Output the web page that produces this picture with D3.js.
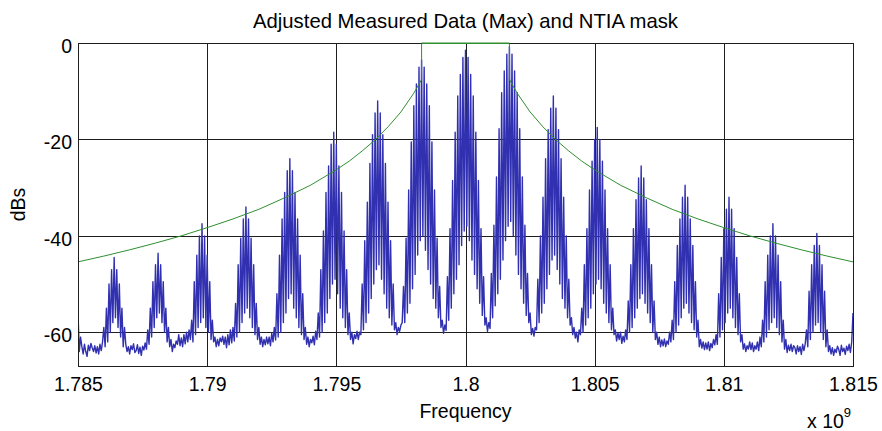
<!DOCTYPE html>
<html>
<head>
<meta charset="utf-8">
<script src="https://cdn.jsdelivr.net/npm/d3@7/dist/d3.min.js"></script>
<style>
  html, body { margin: 0; padding: 0; background: #ffffff; }
  svg { display: block; }
  text { font-family: "Liberation Sans", Arial, Helvetica, sans-serif; fill: #000; }
</style>
</head>
<body>
<svg id="chart" width="882" height="431"></svg>
<script>
// Spectrum sample grid (Hz)
const freqStartHz = 1.785e9;
const freqStepHz = 5e4;

// Measured max-hold spectrum, dB, one sample per 50 kHz
const spectrumDb = [
  -56,-64,-61,-63,-64.5,-62.5,-64,-65,-62.7,-63.8,-62.3,
  -63.2,-64,-62.8,-64.3,-63,-64.5,-62.5,-63.8,-62,-59,-63,-55,-62,-50,-60,-47,-58,-44.5,-57,-47,-59,-50,-61,-55,-63,-59,-62.5,-64,-63,-64.5,-62.8,-63.6,-62.4,-64.2,
  -63.8,-62.6,-64.4,-63.1,-64.8,-62.9,-63.7,-62.2,-63.5,-59.5,-62.5,-55,-61,-49.5,-59,-46,-57,-43.6,-56,-46,-58,-49.5,-60,-55,-62,-59,-63,-61.5,-64,-62.5,-63.2,-61.8,-62.5,-60.5,
  -62.8,-61.2,-63,-60.5,-62.4,-60,-62,-59.5,-61.5,-57.5,-62,-49.5,-60.5,-44,-59,-40,-58,-37.5,-57,-40,-59,-44,-60,-49.5,-61.5,-57.5,-62,-61,-63,-61.5,-62.8,-61.2,-62,-60.8,
  -62.5,-61,-63.2,-60.5,-62.6,-59.5,-62.2,-59,-61.8,-54,-61,-46,-60,-40.5,-58,-36.5,-56,-34,-55,-36.5,-57,-40.5,-59,-46,-60.5,-54,-61.5,-59,-62.5,-61,-63,-61.5,-62.6,-61,
  -62.4,-61,-62.8,-60.2,-62,-59,-61.6,-52,-61,-44,-60,-36.5,-58,-31,-56,-26.5,-53,-24,-52,-26.5,-55,-31,-57,-36.5,-59,-44,-60.5,-52,-61.5,-59,-62.5,-61,-63,-61.5,
  -62.2,-60.8,-62.6,-59.8,-61.5,-56,-61,-47,-60,-39,-58,-31,-56,-25.5,-53,-21,-50,-18.5,-49,-21,-52,-25.5,-55,-31,-57,-39,-59,-47,-60.5,-56,-61.5,-60,-62.4,-60.5,
  -61.3,-59.8,-61.5,-60,-60.5,-50,-59.5,-41,-58,-33,-56,-25,-53,-19,-50,-14.5,-47,-12,-46,-14.5,-49,-19,-52,-25,-55,-33,-57,-41,-58.5,-50,-59.5,-58,-60.5,-59,
  -59.8,-58.5,-58,-50.5,-58,-40.5,-56,-30.5,-54,-20.5,-51,-13,-48,-8.5,-44,-5,-41,-3.5,-40,-5,-43,-8.5,-47,-13,-50,-20.5,-53,-30.5,-55,-40.5,-57,-50.5,-59,-57.5,
  -60.2,-58.5,-59.6,-48.5,-57.5,-38.5,-55,-28.5,-52,-18.5,-49,-11,-46,-6.5,-42,-3,-39,-1.5,-38,-3,-41,-6.5,-45,-11,-48,-18.5,-51,-28.5,-54,-38.5,-56.5,-48.5,-58.5,-57,
  -59.8,-58,-59.2,-47.8,-57,-37.8,-54.5,-27.8,-52,-17.8,-49,-10.3,-45,-5.8,-41,-2.3,-38,-0.8,-37,-2.3,-40,-5.8,-44,-10.3,-48,-17.8,-51,-27.8,-54,-37.8,-56.5,-47.8,-58,-56,
  -60.5,-59.2,-60.8,-59,-59.5,-49,-58,-40,-56,-32,-54,-24,-51,-18,-48,-13.5,-45,-11,-44,-13.5,-47,-18,-50,-24,-53,-32,-55,-40,-57,-49,-58.5,-57,-60.5,-59,
  -61.2,-60,-62,-59.5,-60.5,-55,-60,-46,-58.5,-38.5,-57,-30.5,-55,-24.5,-52,-20,-50,-17.5,-49,-20,-51,-24.5,-54,-30.5,-56,-38.5,-58,-46,-59.5,-55,-60.5,-59.5,-61.8,-60.2,
  -61.5,-60,-62.3,-60.8,-62,-59.5,-61.5,-53.5,-60,-46,-59,-38.5,-57,-32.5,-55,-28,-53,-25.5,-52,-28,-54,-32.5,-56,-38.5,-58,-46,-60,-53.5,-61.5,-60,-62.5,-61,-63,-61.6,
  -62.8,-61.4,-63,-61.8,-62.5,-60,-62,-57.5,-61.5,-49.5,-60,-42,-58.5,-36.5,-57,-32,-55,-29.5,-54,-32,-56,-36.5,-58,-42,-59.5,-49.5,-61,-57.5,-63,-61.5,-63.3,-62,-63.6,-62.2,
  -63.5,-62,-63.8,-62.3,-63.2,-61.5,-62.6,-60.5,-62.5,-52,-61,-44.5,-59.5,-38.5,-58,-34.5,-56,-32,-55,-34.5,-57,-38.5,-59,-44.5,-60.5,-52,-62,-60.5,-63.5,-62.4,-64,-62.8,-63.5,-62,
  -63.6,-62.2,-64,-62.8,-63.5,-62,-63.8,-61,-63,-57.5,-62,-49.5,-61,-44,-59.5,-40,-58,-37.5,-57,-40,-59,-44,-60.5,-49.5,-62,-57.5,-63.5,-61.5,-64.2,-62.7,-63.8,-62.5,-64,-62.8,
  -63.2,-64.5,-62.8,-64,-63,-64.6,-62.5,-63.8,-62.4,-59.5,-63,-51.5,-61.5,-46,-60,-42,-58.5,-39.5,-58,-42,-60,-46,-61.5,-51.5,-63,-59.5,-64,-62.8,-64.5,-63.2,-64.8,-63.5,-64.2,-62.9,
  -63.6,-64.8,-62.7,-64,-63.3,-64.6,-62.9,-63.8,-62.5,-64.2,-62,-56
];

// NTIA emission mask
const maskFreqMHz = [1785,1786,1787,1788,1789,1790,1791,1792,1793,1794,1795,1795.5,1796,1796.5,1797,1797.5,1798,1798.3,
                     1798.3,1801.7,1801.7,
                     1802,1802.5,1803,1803.5,1804,1804.5,1805,1806,1807,1808,1809,1810,1811,1812,1813,1814,1815];
const maskDb = [-45.4,-44.2,-42.9,-41.5,-40.0,-38.3,-36.5,-34.5,-32.1,-29.5,-26.3,-24.5,-22.4,-20.1,-17.4,-14.3,-10.4,-7.6,
                0,0,-7.6,
                -10.4,-14.3,-17.4,-20.1,-22.4,-24.5,-26.3,-29.5,-32.1,-34.5,-36.5,-38.3,-40.0,-41.5,-42.9,-44.2,-45.4];

// Axis ticks
const xTickValues = [1.785e9, 1.79e9, 1.795e9, 1.8e9, 1.805e9, 1.81e9, 1.815e9];
const xTickLabels = ["1.785", "1.79", "1.795", "1.8", "1.805", "1.81", "1.815"];
const yTickValues = [-60, -40, -20, 0];
const yTickLabels = ["-60", "-40", "-20", "0"];

const titleText = "Adjusted Measured Data (Max) and NTIA mask";
const xLabelText = "Frequency";
const yLabelText = "dBs";

// Layout
const plot = { left: 78, right: 853, top: 43, bottom: 366 };
const fontSize = 19.5;
const axisColor = "#1e1e1e";

const svg = d3.select("#chart");

const x = d3.scaleLinear().domain([1.785e9, 1.815e9]).range([plot.left, plot.right]);
const y = d3.scaleLinear().domain([-67, 0]).range([plot.bottom, plot.top]);

svg.append("defs").append("clipPath").attr("id", "plotClip")
  .append("rect")
  .attr("x", plot.left).attr("y", plot.top - 1)
  .attr("width", plot.right - plot.left).attr("height", plot.bottom - plot.top + 1);

// Grid
const grid = svg.append("g").attr("stroke", axisColor).attr("stroke-width", 1).attr("shape-rendering", "crispEdges");
grid.selectAll("line.gx").data(xTickValues.slice(1, -1)).join("line")
  .attr("class", "gx")
  .attr("x1", d => Math.round(x(d)) + 0.5).attr("x2", d => Math.round(x(d)) + 0.5)
  .attr("y1", plot.top).attr("y2", plot.bottom);
grid.selectAll("line.gy").data(yTickValues.filter(v => v !== 0)).join("line")
  .attr("class", "gy")
  .attr("x1", plot.left).attr("x2", plot.right)
  .attr("y1", d => Math.round(y(d)) + 0.5).attr("y2", d => Math.round(y(d)) + 0.5);

// Spectrum trace
const spectrumLine = d3.line()
  .x((d, i) => x(freqStartHz + i * freqStepHz))
  .y(d => y(d));

svg.append("path")
  .datum(spectrumDb)
  .attr("clip-path", "url(#plotClip)")
  .attr("fill", "none")
  .attr("stroke", "#3030b0")
  .attr("stroke-width", 1.4)
  .attr("stroke-linejoin", "round")
  .attr("d", spectrumLine);

// Mask
const maskLine = d3.line()
  .x((d, i) => x(maskFreqMHz[i] * 1e6))
  .y(d => y(d));

svg.append("path")
  .datum(maskDb)
  .attr("clip-path", "url(#plotClip)")
  .attr("fill", "none")
  .attr("stroke", "#2f8f2f")
  .attr("stroke-width", 1)
  .attr("d", maskLine);

// Axes (ticks point inward)
const xAxisBottom = d3.axisBottom(x)
  .tickValues(xTickValues)
  .tickFormat((d, i) => xTickLabels[i])
  .tickSizeInner(-5).tickSizeOuter(0).tickPadding(11);
const xAxisTop = d3.axisTop(x)
  .tickValues(xTickValues).tickFormat("")
  .tickSizeInner(-5).tickSizeOuter(0);
const yAxisLeft = d3.axisLeft(y)
  .tickValues(yTickValues)
  .tickFormat((d, i) => yTickLabels[i])
  .tickSizeInner(-5).tickSizeOuter(0).tickPadding(6);
const yAxisRight = d3.axisRight(y)
  .tickValues(yTickValues).tickFormat("")
  .tickSizeInner(-5).tickSizeOuter(0);

function styleAxis(g) {
  g.select(".domain").remove();
  g.selectAll(".tick line").attr("stroke", axisColor).attr("shape-rendering", "crispEdges");
  g.selectAll(".tick text").attr("font-size", fontSize).attr("fill", "#000");
}

svg.append("g").attr("transform", `translate(0,${plot.bottom})`).call(xAxisBottom).call(styleAxis)
  .selectAll(".tick text").attr("dy", "0.71em");
svg.append("g").attr("transform", `translate(0,${plot.top})`).call(xAxisTop).call(styleAxis);
svg.append("g").attr("transform", `translate(${plot.left},0)`).call(yAxisLeft).call(styleAxis)
  .selectAll(".tick text").attr("dy", "0.47em");
svg.append("g").attr("transform", `translate(${plot.right},0)`).call(yAxisRight).call(styleAxis);

// Axes box
svg.append("rect")
  .attr("x", plot.left + 0.5).attr("y", plot.top + 0.5)
  .attr("width", plot.right - plot.left).attr("height", plot.bottom - plot.top)
  .attr("fill", "none").attr("stroke", axisColor).attr("stroke-width", 1)
  .attr("shape-rendering", "crispEdges");

// Mask top edge runs along the frame at 0 dB
svg.append("line")
  .attr("x1", x(maskFreqMHz[18] * 1e6)).attr("x2", x(maskFreqMHz[19] * 1e6))
  .attr("y1", y(0) + 0.5).attr("y2", y(0) + 0.5)
  .attr("stroke", "#2f8f2f").attr("stroke-width", 1);

// Titles
svg.append("text")
  .attr("x", (plot.left + plot.right) / 2).attr("y", 28)
  .attr("text-anchor", "middle").attr("font-size", 20.3)
  .text(titleText);

svg.append("text")
  .attr("x", (plot.left + plot.right) / 2).attr("y", 418)
  .attr("text-anchor", "middle").attr("font-size", fontSize)
  .text(xLabelText);

svg.append("text")
  .attr("transform", `translate(25,${(plot.top + plot.bottom) / 2}) rotate(-90)`)
  .attr("text-anchor", "middle").attr("font-size", fontSize)
  .text(yLabelText);

// Exponent of the frequency axis
const expText = svg.append("text")
  .attr("x", 807).attr("y", 428)
  .attr("font-size", fontSize);
expText.append("tspan").text("x 10");
expText.append("tspan").attr("dy", -11).attr("font-size", 13).text("9");
</script>
</body>
</html>
